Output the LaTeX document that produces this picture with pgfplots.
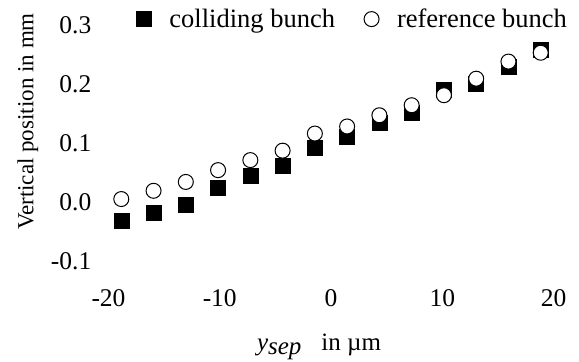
\documentclass[border=0pt]{standalone}
\usepackage{fontspec}
\setmainfont{Liberation Serif}
\usepackage{pgfplots}
\pgfplotsset{compat=1.18}
\pgfplotsset{dotlegend/.style={legend image code/.code={\draw[##1] plot coordinates {(0bp,0bp)};}}}
\begin{document}
\begin{tikzpicture}[x=1bp,y=1bp]
\begin{axis}[
  at={(108.5bp,101bp)}, anchor=south west,
  scale only axis, width=445bp, height=236bp,
  xmin=-20, xmax=20, ymin=-0.1, ymax=0.3,
  xtick={-20,-10,0,10,20}, xticklabels={-20,-10,0,10,20},
  ytick={-0.1,0,0.1,0.2,0.3}, yticklabels={-0.1,0.0,0.1,0.2,0.3},
  major tick length=0pt,
  axis line style={draw=none},
  tick style={draw=none},
  xticklabel style={font=\fontsize{25.5bp}{30bp}\selectfont, inner sep=0pt, anchor=base, yshift=-45bp},
  yticklabel style={font=\fontsize{25.5bp}{30bp}\selectfont, inner sep=0pt, anchor=east, xshift=-17bp},
  clip=false,
  xlabel={\textit{y}\raisebox{-0.16em}{\textit{sep}}\hspace{20bp}in µm},
  xlabel style={font=\fontsize{25bp}{30bp}\selectfont, at={(axis description cs:0.473,-0.38)}, anchor=base, inner sep=0pt},
  ylabel={Vertical position in mm},
  ylabel style={font=\fontsize{23bp}{28bp}\selectfont, at={(axis description cs:-0.181,0.591)}, anchor=center, inner sep=0pt},
  legend columns=2,
  legend style={draw=none, fill=none, inner sep=0pt, font=\fontsize{26.5bp}{30bp}\selectfont,
    at={(axis description cs:0.0624,1.025)}, anchor=west,
    nodes={inner sep=0pt},
    /tikz/every odd column/.style={column sep=18bp},
    /tikz/column 2/.style={column sep=29bp}},
]
\addplot[only marks, mark=square*, mark size=7.5bp, mark options={fill=black, draw=black, line width=0.4bp}, dotlegend]
coordinates {
(-18.85,-0.032) (-15.95,-0.018) (-13.05,-0.004) (-10.15,0.025) (-7.25,0.044)
(-4.35,0.062) (-1.45,0.092) (1.45,0.110) (4.35,0.135) (7.25,0.151)
(10.15,0.190) (13.05,0.200) (15.95,0.230) (18.85,0.258)
};
\addlegendentry{colliding bunch}
\addplot[only marks, mark=*, mark size=7.5bp, mark options={fill=white, draw=black, line width=1bp}, dotlegend]
coordinates {
(-18.85,0.005) (-15.95,0.019) (-13.05,0.034) (-10.15,0.054) (-7.25,0.071)
(-4.35,0.087) (-1.45,0.116) (1.45,0.128) (4.35,0.147) (7.25,0.164)
(10.15,0.181) (13.05,0.209) (15.95,0.238) (18.85,0.253)
};
\addlegendentry{reference bunch}
\end{axis}
\pgfresetboundingbox
\path (0bp,0bp) rectangle (579bp,362bp);
\end{tikzpicture}
\end{document}
